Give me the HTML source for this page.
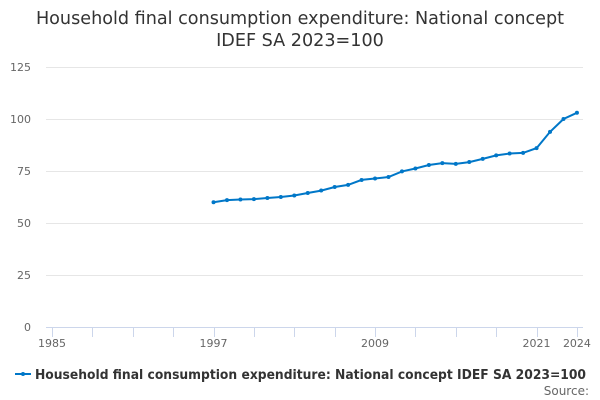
<!DOCTYPE html>
<html><head><meta charset="utf-8"><style>
body{margin:0;background:#fff;}
svg{display:block;font-family:"DejaVu Sans","Liberation Sans",sans-serif;}
</style></head><body>
<svg id="c" width="600" height="400" xmlns="http://www.w3.org/2000/svg">
<text x="300" y="24" font-size="17.6" fill="#333" text-anchor="middle">Household final consumption expenditure: National concept</text>
<text x="300" y="46" font-size="17.6" fill="#333" text-anchor="middle">IDEF SA 2023=100</text>
<g id="grid"></g>
<g id="series"></g>
<g>
<line x1="15" y1="374" x2="31" y2="374" stroke="#0077c8" stroke-width="2"/>
<circle cx="23" cy="374" r="2" fill="#0077c8"/>
<text x="35" y="379" font-size="13" font-weight="bold" fill="#333" textLength="551" lengthAdjust="spacingAndGlyphs">Household final consumption expenditure: National concept IDEF SA 2023=100</text>
<text x="589" y="395" font-size="12" fill="#666" text-anchor="end">Source:</text>
</g>
</svg>
<script>
var ns="http://www.w3.org/2000/svg";
function el(t,a,p){var e=document.createElementNS(ns,t);for(var k in a)e.setAttribute(k,a[k]);p.appendChild(e);return e;}
var g=document.getElementById('grid'),s=document.getElementById('series');
function Y(v){return 327-v*2.08;}
function X(yr){return 52+(yr-1985)*13.46;}
for(var v=0;v<=125;v+=25){
 el('line',{x1:46,x2:583,y1:Y(v)+.5,y2:Y(v)+.5,stroke:v==0?'#ccd6eb':'#e6e6e6','stroke-width':1},g);
 var t=el('text',{x:31,y:Y(v)+4,'font-size':11,fill:'#666','text-anchor':'end'},g);t.textContent=v;
}
for(var yr=1985;yr<=2024;yr+=3){var x=Math.round(X(yr))+.5;el('line',{x1:x,x2:x,y1:327,y2:337,stroke:'#ccd6eb'},g);}
el('line',{x1:577.5,x2:577.5,y1:327,y2:337,stroke:'#ccd6eb'},g);
[1985,1997,2009,2021,2024].forEach(function(yr){var t=el('text',{x:X(yr),y:347,'font-size':11,fill:'#666','text-anchor':'middle'},g);t.textContent=yr;});
var d=[60,61,61.3,61.5,62,62.5,63.2,64.4,65.6,67.3,68.3,70.7,71.4,72.1,74.8,76.2,77.9,78.8,78.4,79.3,80.8,82.5,83.4,83.7,86,93.8,100,103];
var pts=d.map(function(v,i){return X(1997+i).toFixed(1)+','+Y(v).toFixed(1);});
el('polyline',{points:pts.join(' '),fill:'none',stroke:'#0077c8','stroke-width':2},s);
d.forEach(function(v,i){el('circle',{cx:X(1997+i),cy:Y(v),r:2,fill:'#0077c8'},s);});
</script>
</body></html>
